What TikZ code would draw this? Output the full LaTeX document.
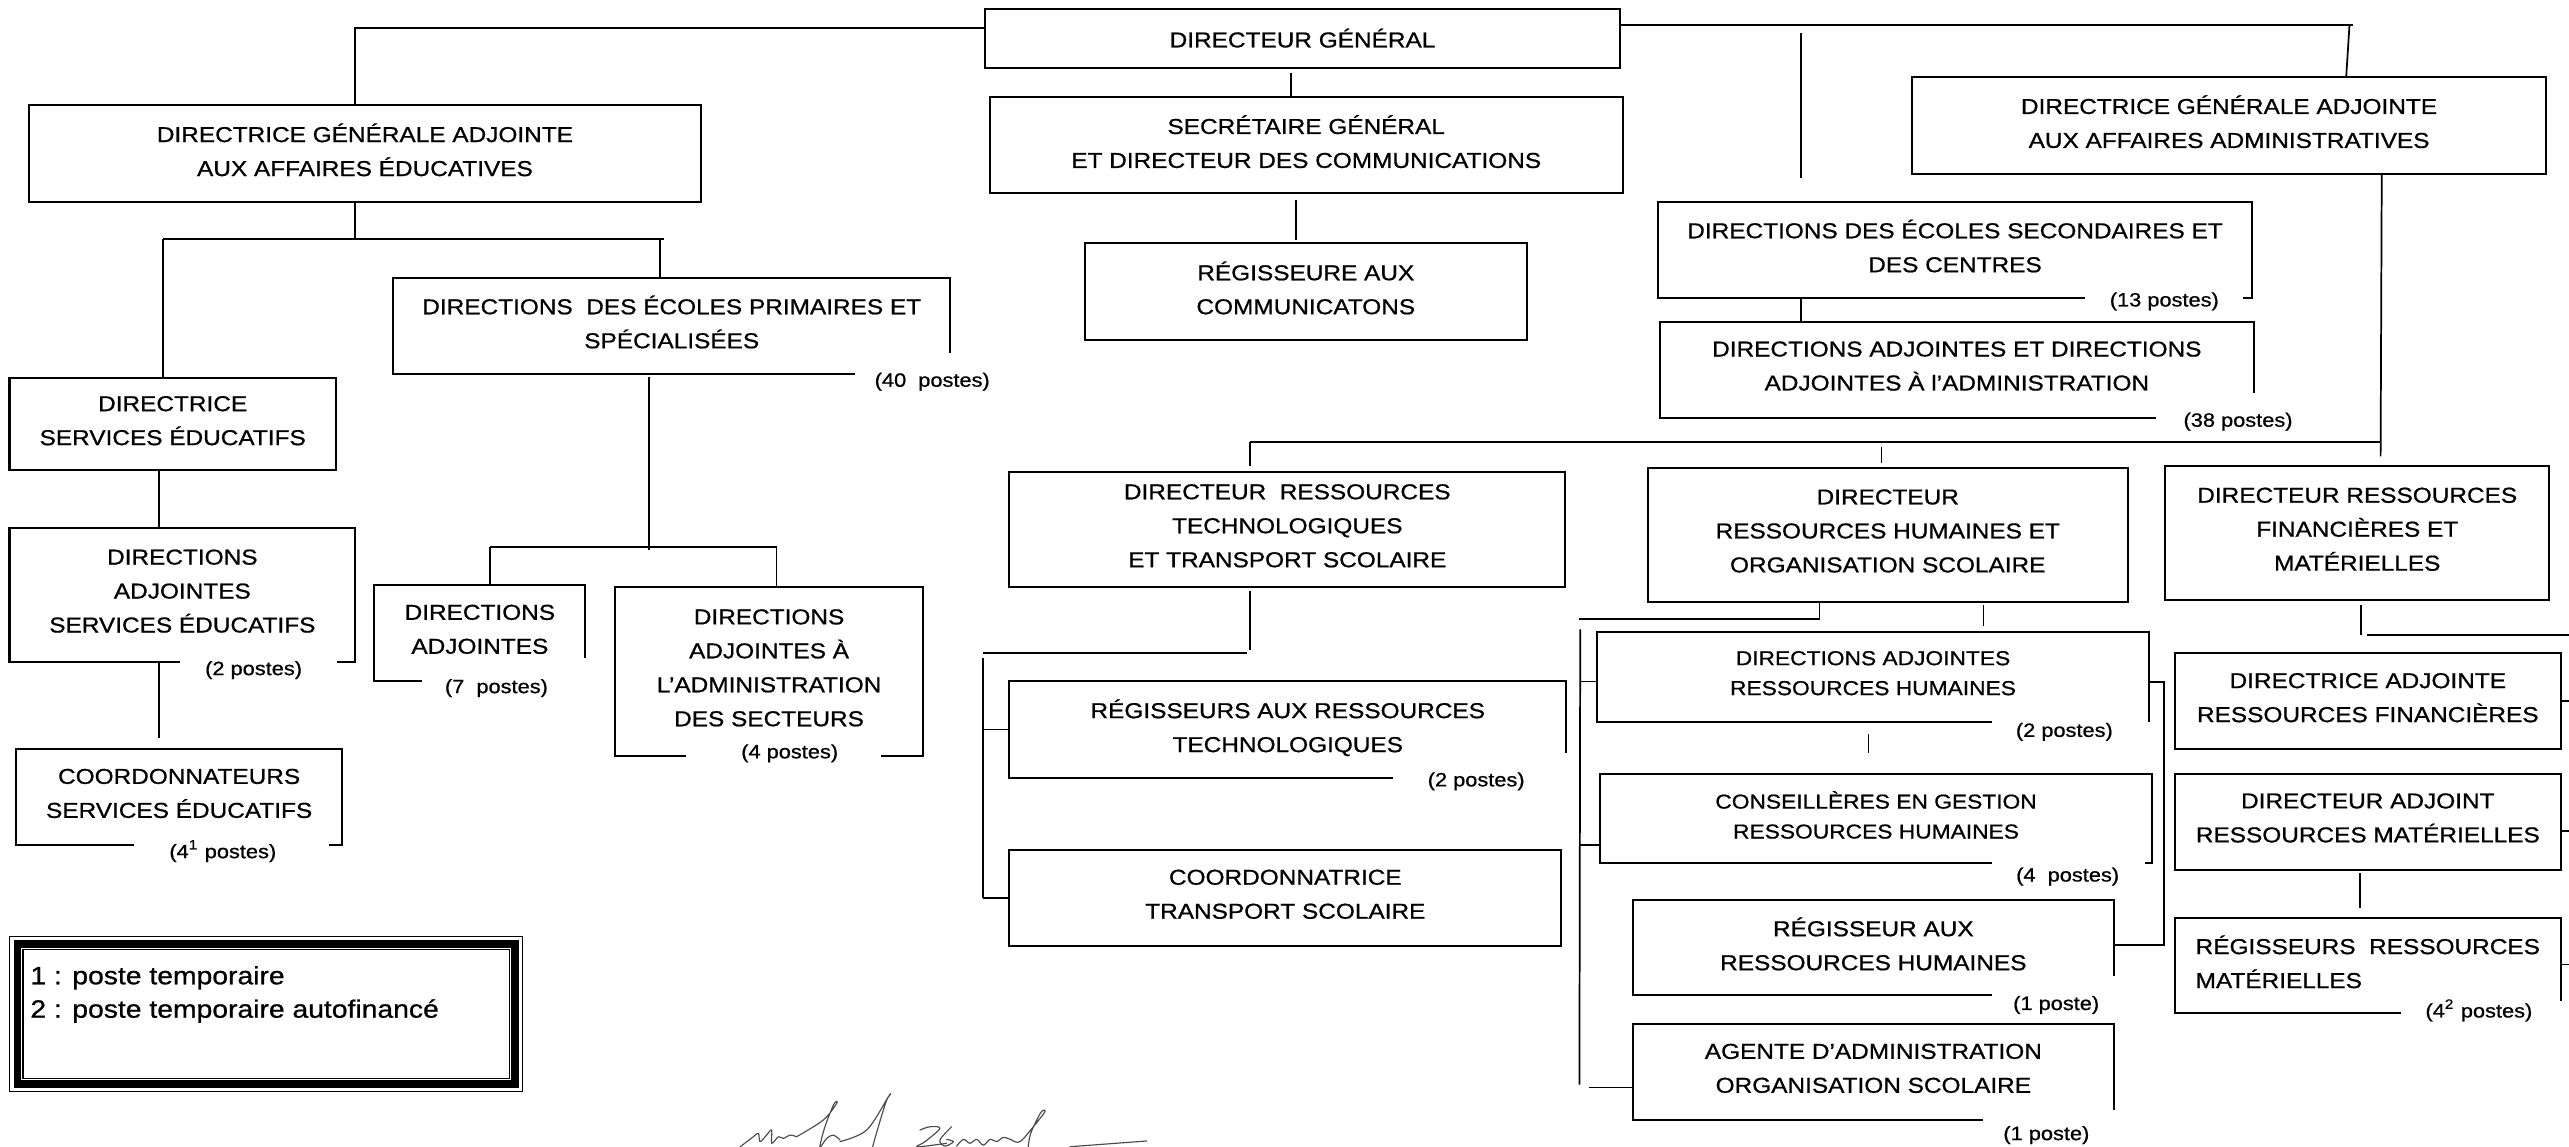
\documentclass[tikz,border=0pt]{standalone}
\usepackage{fontspec}
\setmainfont{Liberation Sans}[FakeStretch=1.13,FakeBold=0.8]
\newcommand\fsN{\fontsize{7.5}{11.8}\selectfont}
\newcommand\fsS{\fontsize{7.0}{10.4}\selectfont}
\newcommand\fsP{\fontsize{6.7}{8}\selectfont}
\newcommand\fsL{\fontsize{8.7}{11.6}\selectfont}
\tikzset{
  bx/.style={draw,line width=0.7pt,inner sep=0pt,outer sep=0pt,align=center,font=\fsN,text depth=2.6pt},
  ob/.style={draw=none},
  ln/.style={line width=0.6pt},
  bd/.style={line width=0.7pt},
  pst/.style={font=\fsP,inner sep=0pt},
  sig/.style={line width=0.4pt,black!70,line join=round,line cap=round},
}
\newcommand\mkbox[7][]{%
  \pgfmathsetmacro\bw{(#4-#2)*0.02}%
  \pgfmathsetmacro\bh{(#5-#3)*0.02}%
  \node[bx,minimum width=\bw cm,minimum height=\bh cm,#1] (#6) at ({(#2+#4)/2},{(#3+#5)/2}) {#7};}
\begin{document}
\begin{tikzpicture}[x=0.02cm,y=-0.02cm]
\useasboundingbox (0,0) rectangle (1568,700);
\fill[white] (0,0) rectangle (1568,700);

% ---------- boxes
\mkbox[text depth=0.3pt]{601}{5.7}{989}{41.3}{dg}{DIRECTEUR GÉNÉRAL}
\mkbox{17.5}{64.3}{428}{123}{dgae}{DIRECTRICE GÉNÉRALE ADJOINTE\\AUX AFFAIRES ÉDUCATIVES}
\mkbox{604}{59.4}{990.5}{118}{sg}{SECRÉTAIRE GÉNÉRAL\\ET DIRECTEUR DES COMMUNICATIONS}
\mkbox{662}{148.5}{932}{207.5}{regc}{RÉGISSEURE AUX\\COMMUNICATONS}
\mkbox{1167}{47}{1554}{106}{dgaa}{DIRECTRICE GÉNÉRALE ADJOINTE\\AUX AFFAIRES ADMINISTRATIVES}
\mkbox[ob]{1012}{123}{1374.5}{181.7}{esc}{DIRECTIONS DES ÉCOLES SECONDAIRES ET\\DES CENTRES}
\mkbox[ob]{1013}{196.3}{1375.7}{255}{daa}{DIRECTIONS ADJOINTES ET DIRECTIONS\\ADJOINTES À l’ADMINISTRATION}
\mkbox[ob]{240}{169.5}{580}{228}{prim}{DIRECTIONS~~DES ÉCOLES PRIMAIRES ET\\SPÉCIALISÉES}
\mkbox{5.8}{231}{205}{287}{dse}{DIRECTRICE\\SERVICES ÉDUCATIFS}
\mkbox[ob]{5.8}{322}{216.8}{404}{dase}{DIRECTIONS\\ADJOINTES\\SERVICES ÉDUCATIFS}
\mkbox[ob]{9.7}{457}{209}{516}{coord}{COORDONNATEURS\\SERVICES ÉDUCATIFS}
\mkbox[ob]{228.5}{357}{357.3}{415.7}{da7}{DIRECTIONS\\ADJOINTES}
\mkbox[ob]{375.6}{358.5}{563.2}{461.2}{dasec}{DIRECTIONS\\ADJOINTES À\\L’ADMINISTRATION\\DES SECTEURS}
\mkbox{616}{287.8}{955.4}{358.5}{drtts}{DIRECTEUR~~RESSOURCES\\TECHNOLOGIQUES\\ET TRANSPORT SCOLAIRE}
\mkbox{1005.6}{285.4}{1298.8}{367.2}{drh}{DIRECTEUR\\RESSOURCES HUMAINES ET\\ORGANISATION SCOLAIRE}
\mkbox{1321.5}{284.4}{1556}{366.1}{drfm}{DIRECTEUR RESSOURCES\\FINANCIÈRES ET\\MATÉRIELLES}
\mkbox[ob]{616}{415.8}{956}{474.7}{rrt}{RÉGISSEURS AUX RESSOURCES\\TECHNOLOGIQUES}
\mkbox{616}{518.6}{953}{577.5}{ctr}{COORDONNATRICE\\TRANSPORT SCOLAIRE}
\mkbox[ob,font=\fsS]{974.6}{385.5}{1311.8}{440.7}{darh}{DIRECTIONS ADJOINTES\\RESSOURCES HUMAINES}
\mkbox[ob,font=\fsS]{976.8}{472.2}{1313.3}{527}{cons}{CONSEILLÈRES EN GESTION\\RESSOURCES HUMAINES}
\mkbox[ob]{996.8}{549.3}{1290}{607.4}{rrh}{RÉGISSEUR AUX\\RESSOURCES HUMAINES}
\mkbox[ob]{996.8}{625}{1290}{683.6}{agt}{AGENTE D’ADMINISTRATION\\ORGANISATION SCOLAIRE}
\mkbox{1327.6}{398.8}{1562.8}{457.3}{darf}{DIRECTRICE ADJOINTE\\RESSOURCES FINANCIÈRES}
\mkbox{1327.6}{472.2}{1562.8}{530.7}{darm}{DIRECTEUR ADJOINT\\RESSOURCES MATÉRIELLES}
\mkbox[ob,align=left]{1327.6}{560}{1562.8}{618.5}{rrm}{RÉGISSEURS~~RESSOURCES\\MATÉRIELLES}

% ---------- partial borders
\draw[bd] (1272.6,0 |- esc.south) -- (esc.south west) -- (esc.north west) -- (esc.north east) -- (esc.south east) -- (1368.8,0 |- esc.south);
\draw[bd] (1316,0 |- daa.south) -- (daa.south west) -- (daa.north west) -- (daa.north east) -- (daa.east |- 0,240);
\draw[bd] (521.6,0 |- prim.south) -- (prim.south west) -- (prim.north west) -- (prim.north east) -- (prim.east |- 0,215.6);
\draw[bd] (110,0 |- dase.south) -- (dase.south west) -- (dase.north west) -- (dase.north east) -- (dase.south east) -- (205.5,0 |- dase.south);
\draw[bd] (81.7,0 |- coord.south) -- (coord.south west) -- (coord.north west) -- (coord.north east) -- (coord.south east) -- (201,0 |- coord.south);
\draw[bd] (da7.east |- 0,401.8) -- (da7.north east) -- (da7.north west) -- (da7.south west) -- (257.7,0 |- da7.south);
\draw[bd] (418.4,0 |- dasec.south) -- (dasec.south west) -- (dasec.north west) -- (dasec.north east) -- (dasec.south east) -- (537.8,0 |- dasec.south);
\draw[bd] (850.2,0 |- rrt.south) -- (rrt.south west) -- (rrt.north west) -- (rrt.north east) -- (rrt.east |- 0,459.7);
\draw[bd] (1215.8,0 |- darh.south) -- (darh.south west) -- (darh.north west) -- (darh.north east) -- (darh.south east);
\draw[bd] (1215.8,0 |- cons.south) -- (cons.south west) -- (cons.north west) -- (cons.north east) -- (cons.south east) -- ++(-4,0);
\draw[bd] (1215.8,0 |- rrh.south) -- (rrh.south west) -- (rrh.north west) -- (rrh.north east) -- (rrh.east |- 0,596);
\draw[bd] (1210.6,0 |- agt.south) -- (agt.south west) -- (agt.north west) -- (agt.north east) -- (agt.east |- 0,677.4);
\draw[bd] (1465.6,0 |- rrm.south) -- (rrm.south west) -- (rrm.north west) -- (rrm.north east) -- (rrm.east |- 0,611);

% ---------- postes labels
\node[pst] (esc-p) at (1321,184) {(13 postes)};
\node[pst] (daa-p) at (1366,257.4) {(38 postes)};
\node[pst] (prim-p) at (569,233) {(40~~postes)};
\node[pst] (dase-p) at (154.8,409) {(2 postes)};
\node[pst] (coord-p) at (136,519.5) {(4\textsuperscript{1} postes)};
\node[pst] (da7-p) at (303,420) {(7~~postes)};
\node[pst] (dasec-p) at (482,459.8) {(4 postes)};
\node[pst] (rrt-p) at (901,476.9) {(2 postes)};
\node[pst] (darh-p) at (1260,446.7) {(2 postes)};
\node[pst] (cons-p) at (1262,535) {(4~~postes)};
\node[pst] (rrh-p) at (1255,613.4) {(1 poste)};
\node[pst] (agt-p) at (1249,692.8) {(1 poste)};
\node[pst] (rrm-p) at (1513,616.7) {(4\textsuperscript{2} postes)};

% ---------- connectors
\draw[ln] (dg.west |- 0,16.9) -- (216.8,16.9) -- (216.8,0 |- dgae.north);
\draw[ln] (dg.east |- 0,15.3) -- (1436,15.3);
\draw[ln] (1434,15.3) -- (1432,0 |- dgaa.north);
\coordinate (fv1) at (1099.3,20.3);
\coordinate (fv2) at (1099.3,108.8);
\draw[ln] (fv1) -- (fv2);
\draw[ln] (788,44.4) -- (788,0 |- sg.north);
\draw[ln] (791,122) -- (791,146.5);
\draw[ln] (216.8,0 |- dgae.south) -- (216.8,146);
\draw[ln] (99.7,146) -- (405,146);
\draw[ln] (99.7,146) -- (99.7,0 |- dse.north);
\draw[ln] (403,146) -- (403,0 |- prim.north);
\draw[ln] (97,0 |- dse.south) -- (97,0 |- dase.north);
\draw[ln] (97,0 |- dase.south) -- (97,450.5);
\draw[ln] (396,230) -- (396,335.7);
\draw[ln] (299,333.7) -- (474,333.7);
\draw[ln] (299,333.7) -- (299,0 |- da7.north);
\draw[ln] (474,333.7) -- (474,0 |- dasec.north);
\draw[ln] (1099.3,0 |- esc.south) -- (1099.3,0 |- daa.north);
\draw[ln] (1453.7,0 |- dgaa.south) -- (1453,278.5);
\draw[ln] (762.8,269.6) -- (1452.7,269.6);
\draw[ln] (762.8,269.6) -- (762.8,284.2);
\draw[ln] (1148.3,272.6) -- (1148.3,282.4);
\draw[ln] (762.8,360.8) -- (762.8,396.6);
\draw[ln] (600,398.7) -- (760.9,398.7);
\draw[ln] (600,401.5) -- (600,547.9);
\draw[ln] (600,0 |- rrt.west) -- (rrt.west);
\draw[ln] (600,0 |- ctr.west) -- (ctr.west);
\draw[ln] (1110.5,0 |- drh.south) -- (1110.5,378) -- (963.6,378);
\draw[ln] (964.5,384.1) -- (964,662);
\draw[ln] (964.5,416) -- (darh.west |- 0,416);
\draw[ln] (964.5,515.8) -- (cons.west |- 0,515.8);
\draw[ln] (969.8,663.7) -- (agt.west |- 0,663.7);
\draw[ln] (1210.7,369.3) -- (1210.7,382);
\draw[ln] (1140.4,447.9) -- (1140.4,459.7);
\draw[ln] (darh.east |- 0,416.3) -- (1320.6,416.3) -- (1320.6,576.8) -- (rrh.east |- 0,576.8);
\draw[ln] (1441.2,369.5) -- (1441.2,387.4);
\draw[ln] (1444.5,387.4) -- (1568,387.4);
\draw[ln] (darf.east) -- (1568,0 |- darf.east);
\draw[ln] (darm.east |- 0,507) -- (1568,507);
\draw[ln] (rrm.east |- 0,588.6) -- (1568,588.6);
\draw[ln] (1440.3,533) -- (1440.3,554);

% ---------- legend
\draw[line width=0.45pt] (6,571.5) rectangle (319,666.3);
\draw[line width=2.6pt] (10.8,576.2) rectangle (314.2,661.6);
\draw[line width=0.45pt] (14,579.6) rectangle (311,658.2);
\node[font=\fsL,align=left,anchor=west,inner sep=0pt] (leg) at (18.2,607) {1 : poste temporaire\\2 : poste temporaire autofinancé};

% ---------- signature
\draw[sig] plot[smooth,tension=0.55] coordinates {(451.7,700) (459.8,693.8) (462.9,691.7) (463.9,696.8) (467.9,692.8) (471,689.7) (471,697.8) (475.1,693.8) (478.1,694.8) (482.2,692.8) (486.2,693.8)};
\draw[sig] plot[smooth,tension=0.55] coordinates {(486.2,693.8) (502.5,683.6) (510.7,673.4) (509,673.8) (503.5,687.7) (500.5,699.9) (504.6,694.8) (508.6,692.8) (512.7,695.8)};
\draw[sig] plot[smooth,tension=0.55] coordinates {(512.7,696.8) (529,689.7) (542.2,669.4) (543.2,668.3) (540.8,672.4) (535.5,689.7) (532.6,700)};
\draw[sig] plot[smooth,tension=0.55] coordinates {(561.5,689.7) (567.6,687.7) (573.7,688.7) (564.6,696.8) (559.5,699.9) (569.7,698.9) (577.8,697.8)};
\draw[sig] plot[smooth,tension=0.55] coordinates {(580.8,687.7) (573.7,695.8) (576.8,699.5) (581.9,696.8) (577.8,695.4)};
\draw[sig] plot[smooth,tension=0.55] coordinates {(583.9,699.5) (588,695.4) (592,697.8) (596.1,695.4) (600.2,698.9) (604.3,695.4) (608.3,696.8) (612.4,694.2) (617.5,695.8)};
\draw[sig] plot[smooth,tension=0.55] coordinates {(617.5,695.8) (622.6,696.8) (630.7,687.7) (637.8,678.5) (635.2,679.1) (629.1,691.7) (627.6,700)};
\draw[sig] (653,699.9) -- (699.9,696.4);
\end{tikzpicture}
\end{document}
